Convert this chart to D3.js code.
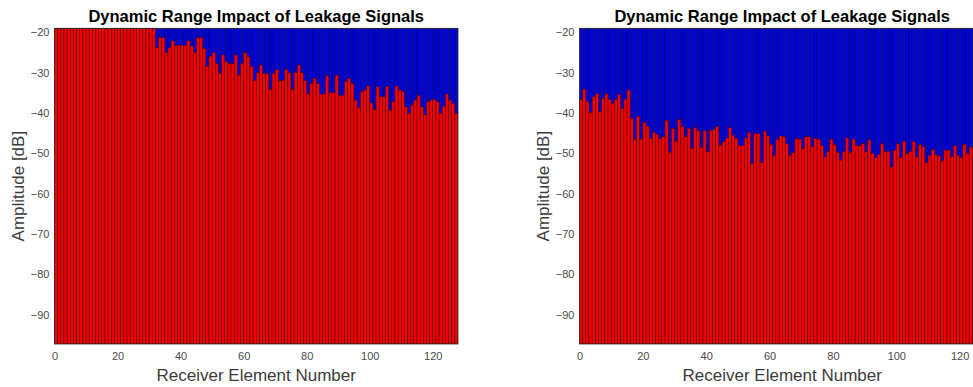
<!DOCTYPE html>
<html>
<head>
<meta charset="utf-8">
<script src="https://cdn.jsdelivr.net/npm/d3@7"></script>
<style>
  html, body { margin: 0; padding: 0; background: #fff; }
  svg { display: block; font-family: "Liberation Sans", Arial, Helvetica, sans-serif; }
</style>
</head>
<body>
<svg id="chart" width="973" height="387"></svg>
<script>
// Receiver elements 1..128
const elements = d3.range(1, 129);

// Peak amplitude per receiver element [dB], left panel
const leftAmplitude = [
  -19, -19, -19, -19, -19, -19, -19, -19, -19, -19,
  -19, -19, -19, -19, -19, -19, -19, -19, -19, -19,
  -19, -19, -19, -19, -19, -19, -19, -19, -19, -19,
  -19, -19,
  -23.8, -21.3, -21.3, -25.0, -23.8, -22.1, -23.2, -23.2, -23.2, -23.2,
  -22.1, -23.4, -25.0, -21.3, -21.3, -24.0, -28.5, -25.9, -25.0, -27.7,
  -30.2, -25.6, -27.3, -27.7, -27.7, -25.6, -30.6, -27.7, -25.0, -26.0,
  -28.4, -32.0, -30.0, -28.1, -30.2, -30.2, -34.1, -30.2, -29.2, -32.0,
  -32.0, -29.2, -30.0, -34.1, -30.0, -28.1, -30.0, -32.0, -35.3, -32.7,
  -31.4, -32.7, -35.3, -35.3, -30.8, -35.0, -35.0, -30.6, -35.6, -35.6,
  -32.1, -31.4, -32.7, -36.8, -38.6, -34.7, -34.3, -33.3, -37.5, -39.1,
  -33.5, -36.0, -36.0, -33.5, -39.3, -37.2, -33.3, -34.3, -34.7, -38.5,
  -40.1, -38.0, -36.8, -35.6, -38.5, -40.5, -37.2, -36.8, -36.6, -37.2,
  -40.1, -38.3, -35.3, -36.8, -37.6, -40.1
];

// Peak amplitude per receiver element [dB], right panel
const rightAmplitude = [
  -36.6, -34.1, -37.1, -39.9, -36.0, -35.2, -39.7, -36.4, -35.3, -36.6,
  -37.6, -36.6, -35.4, -38.9, -36.6, -34.3, -41.4, -46.5, -40.8, -46.5,
  -42.3, -43.4, -46.3, -44.8, -45.3, -46.3, -45.9, -41.8, -49.8, -43.8,
  -47.0, -41.6, -43.4, -45.9, -43.8, -48.8, -43.6, -44.3, -48.6, -44.4,
  -49.5, -44.3, -44.0, -43.4, -48.0, -47.1, -46.2, -43.6, -45.5, -46.3,
  -48.0, -48.0, -46.2, -44.8, -52.5, -45.1, -45.1, -52.3, -44.5, -45.7,
  -47.8, -50.5, -46.6, -45.7, -45.9, -47.6, -50.5, -49.8, -46.3, -46.5,
  -48.8, -45.9, -45.9, -48.4, -46.3, -46.5, -48.1, -50.9, -49.5, -46.5,
  -47.8, -49.8, -51.7, -49.6, -46.2, -49.8, -46.5, -48.1, -48.1, -47.6,
  -49.5, -46.7, -50.0, -51.1, -50.3, -47.6, -49.5, -49.5, -53.4, -49.2,
  -47.6, -51.1, -47.0, -50.0, -49.5, -47.1, -50.9, -47.8, -48.4, -52.3,
  -50.5, -49.0, -50.3, -50.6, -51.9, -49.2, -49.2, -50.9, -48.1, -50.5,
  -51.1, -47.8, -50.0, -48.4, -49.0, -49.5, -50.2, -48.6
];

// Full-scale reference level drawn behind each element [dB]
const fullScale = elements.map(() => -19);

const xTicks = [0, 20, 40, 60, 80, 100, 120];
const yTicks = [-20, -30, -40, -50, -60, -70, -80, -90];
const yDomain = [-97.3, -19];
const xDomain = [0, 128];

const titleText = "Dynamic Range Impact of Leakage Signals";
const xLabelText = "Receiver Element Number";
const yLabelText = "Amplitude [dB]";

const svg = d3.select("#chart");
const labelColor = "#3c3c3c";
const tickColor = "#4a4a4a";
const boxColor = "#262626";

const panels = [
  { id: "left",  values: leftAmplitude,  left: 54.5,  right: 458.0, yLabelX: 18 },
  { id: "right", values: rightAmplitude, left: 579.5, right: 985.0, yLabelX: 543 }
];
const plotTop = 28.3, plotBottom = 344;

panels.forEach(p => {
  const x = d3.scaleLinear().domain(xDomain).range([p.left, p.right]);
  const band = d3.scaleBand().domain(elements).range([x(0), x(128)]).padding(0);
  const y = d3.scaleLinear().domain(yDomain).range([plotBottom, plotTop]);

  const g = svg.append("g");
  const clipId = "clip-" + p.id;
  g.append("clipPath").attr("id", clipId)
    .append("rect")
    .attr("x", p.left).attr("y", plotTop)
    .attr("width", p.right - p.left).attr("height", plotBottom - plotTop);

  const plot = g.append("g").attr("clip-path", `url(#${clipId})`);

  // full-scale reference bars (blue)
  plot.append("g").selectAll("rect")
    .data(elements)
    .join("rect")
    .attr("x", d => band(d))
    .attr("width", band.bandwidth())
    .attr("y", (d, i) => y(fullScale[i]))
    .attr("height", (d, i) => y(yDomain[0]) - y(fullScale[i]))
    .attr("fill", "#0000e0")
    .attr("stroke", "#00003a")
    .attr("stroke-width", 0.5);

  // measured amplitude bars (red)
  plot.append("g").selectAll("rect")
    .data(elements)
    .join("rect")
    .attr("x", d => band(d))
    .attr("width", band.bandwidth())
    .attr("y", (d, i) => y(p.values[i]))
    .attr("height", (d, i) => y(yDomain[0]) - y(p.values[i]))
    .attr("fill", "#f00000")
    .attr("stroke", "#4a0000")
    .attr("stroke-width", 0.5);

  // axes box
  g.append("rect")
    .attr("x", p.left).attr("y", plotTop)
    .attr("width", p.right - p.left).attr("height", plotBottom - plotTop)
    .attr("fill", "none").attr("stroke", boxColor).attr("stroke-width", 0.8);

  // x axis tick labels
  const xAxis = d3.axisBottom(x).tickValues(xTicks).tickSize(0).tickPadding(8);
  const gx = g.append("g").attr("transform", `translate(0,${plotBottom})`).call(xAxis);
  gx.select(".domain").remove();
  gx.selectAll("text")
    .attr("font-size", 11).attr("fill", tickColor)
    .attr("font-family", "Liberation Sans, Arial, sans-serif");

  // y axis tick labels
  const yAxis = d3.axisLeft(y).tickValues(yTicks).tickSize(0).tickPadding(5)
    .tickFormat(d3.format("d"));
  const gy = g.append("g").attr("transform", `translate(${p.left},0)`).call(yAxis);
  gy.select(".domain").remove();
  gy.selectAll("text")
    .attr("font-size", 11).attr("fill", tickColor)
    .attr("font-family", "Liberation Sans, Arial, sans-serif");

  const cx = (p.left + p.right) / 2;

  // title
  g.append("text")
    .attr("x", cx).attr("y", 21.5)
    .attr("text-anchor", "middle")
    .attr("font-size", 16.5).attr("font-weight", "bold")
    .attr("fill", "#000")
    .text(titleText);

  // x label
  g.append("text")
    .attr("x", cx).attr("y", 381)
    .attr("text-anchor", "middle")
    .attr("font-size", 17)
    .attr("fill", labelColor)
    .text(xLabelText);

  // y label
  g.append("text")
    .attr("transform", `translate(${p.yLabelX},${(plotTop + plotBottom) / 2}) rotate(-90)`)
    .attr("text-anchor", "middle")
    .attr("dy", "0.35em")
    .attr("font-size", 17)
    .attr("fill", labelColor)
    .text(yLabelText);
});
</script>
</body>
</html>
